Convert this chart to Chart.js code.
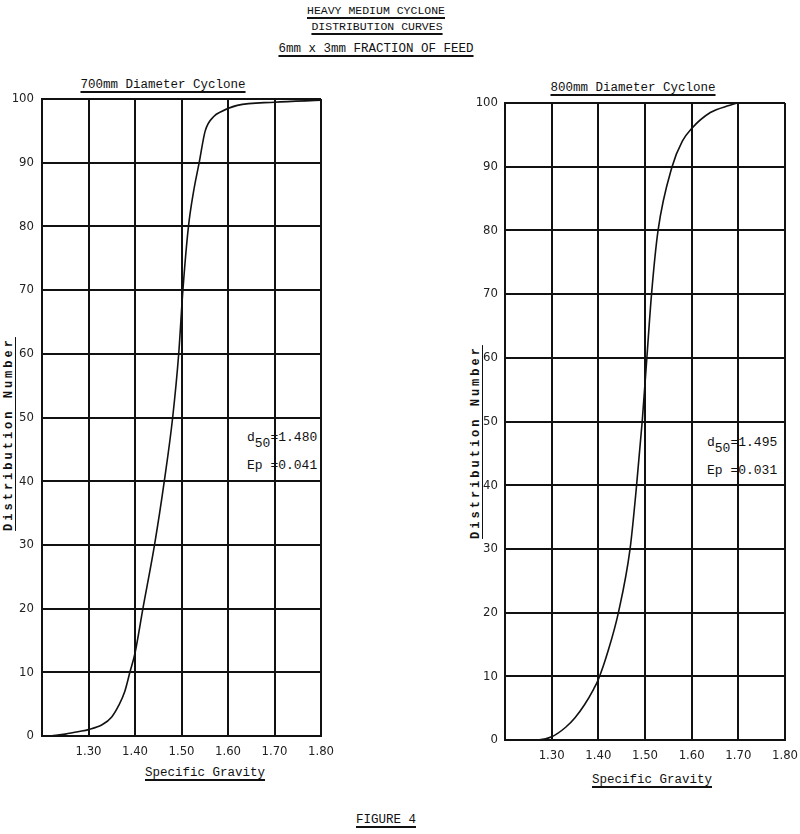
<!DOCTYPE html>
<html>
<head>
<meta charset="utf-8">
<script src="https://cdn.jsdelivr.net/npm/chart.js@4.4.0/dist/chart.umd.min.js"></script>
<style>
  body { margin: 0; background: #fff; width: 800px; height: 834px; position: relative; overflow: hidden; }
  .t { position: absolute; font-family: "Liberation Mono", monospace; font-size: 12.5px; color: #111; white-space: nowrap; line-height: 1; text-decoration: underline; text-underline-offset: 3px; text-decoration-thickness: 1.5px; }
  .c { transform: translateX(-50%); }
  .ytitle { position: absolute; font-family: "Liberation Mono", monospace; font-weight: bold; font-size: 12px; letter-spacing: 3px; color: #111; white-space: nowrap; line-height: 1; text-decoration: underline; text-underline-offset: 3px; transform: translate(-50%, -50%) rotate(-90deg); }
  .ann { position: absolute; font-family: "Liberation Mono", monospace; font-size: 13px; color: #111; white-space: nowrap; line-height: 1; }
  .ann sub { font-size: 13px; vertical-align: -6px; line-height: 0; }
  canvas { position: absolute; }
</style>
</head>
<body>
<div class="t c" style="left:376px;top:5px;font-size:11.5px;">HEAVY MEDIUM CYCLONE</div>
<div class="t c" style="left:377px;top:21px;font-size:11.5px;">DISTRIBUTION CURVES</div>
<div class="t c" style="left:376px;top:43px;">6mm x 3mm FRACTION OF FEED</div>

<div class="t c" style="left:163px;top:79px;">700mm Diameter Cyclone</div>
<div class="t c" style="left:633px;top:82px;">800mm Diameter Cyclone</div>

<div class="ytitle" style="left:9px;top:434px;">Distribution Number</div>
<div class="ytitle" style="left:476px;top:442px;">Distribution Number</div>

<div class="ann" style="left:247px;top:431px;">d<sub>50</sub>=1.480</div>
<div class="ann" style="left:247px;top:459px;">Ep =0.041</div>
<div class="ann" style="left:707px;top:436px;">d<sub>50</sub>=1.495</div>
<div class="ann" style="left:707px;top:464px;">Ep =0.031</div>

<div class="t c" style="left:205px;top:767px;">Specific Gravity</div>
<div class="t c" style="left:652px;top:774px;">Specific Gravity</div>

<div class="t c" style="left:386px;top:814px;">FIGURE 4</div>

<canvas id="left" style="left:0px;top:90px;" width="335" height="680"></canvas>
<canvas id="right" style="left:470px;top:90px;" width="330" height="680"></canvas>

<script>
// specific gravity / distribution number
const sg700 = [1.22, 1.25, 1.28, 1.30, 1.33, 1.35, 1.365, 1.378, 1.389, 1.40, 1.417, 1.442, 1.463, 1.481, 1.494, 1.503, 1.515, 1.526, 1.538, 1.551, 1.57, 1.585, 1.62, 1.70, 1.80];
const dn700 = [0, 0.3, 0.7, 1, 1.8, 3, 4.8, 7, 10, 13, 20, 30, 40, 50, 60, 70, 80, 85.5, 90, 95, 97.3, 98, 99, 99.5, 99.8];

const sg800 = [1.20, 1.27, 1.30, 1.33, 1.35, 1.37, 1.39, 1.40, 1.421, 1.443, 1.468, 1.482, 1.494, 1.504, 1.514, 1.528, 1.558, 1.58, 1.60, 1.64, 1.68, 1.70, 1.80];
const dn800 = [0, 0, 0.5, 2, 3.5, 5.5, 8, 9.5, 14, 20, 30, 40, 50, 60, 70, 80, 90, 94, 96, 98.5, 99.6, 100, 100];

const xTicks = [1.2, 1.3, 1.4, 1.5, 1.6, 1.7, 1.8];
const yTicks = [0, 10, 20, 30, 40, 50, 60, 70, 80, 90, 100];

const tickFont = { family: "'DejaVu Sans Condensed', 'DejaVu Sans', sans-serif", size: 13 };

function makeChart(id, xs, ys, yWidth, xHeight, pad, yPad) {
  new Chart(document.getElementById(id), {
    type: "line",
    data: {
      datasets: [
        {
          data: xs.map((x, i) => ({ x: x, y: ys[i] })),
          borderColor: "#111",
          borderWidth: 1.6,
          pointRadius: 0,
          fill: false,
          cubicInterpolationMode: "monotone",
        },
      ],
    },
    options: {
      responsive: false,
      animation: false,
      layout: { padding: pad },
      plugins: { legend: { display: false }, tooltip: { enabled: false } },
      scales: {
        x: {
          type: "linear",
          min: 1.2,
          max: 1.8,
          afterBuildTicks: (s) => { s.ticks = xTicks.map((v) => ({ value: v })); },
          afterFit: (s) => {
            s.height = xHeight;
            s.paddingLeft = 0;
            s.paddingRight = 0;
          },
          grid: { color: "#111", lineWidth: 2, drawTicks: false },
          border: { color: "#111", width: 2 },
          ticks: {
            color: "#222",
            font: tickFont,
            padding: 8,
            maxRotation: 0,
            callback: (v) => (v < 1.25 ? "" : v.toFixed(2)),
          },
        },
        y: {
          min: 0,
          max: 100,
          afterBuildTicks: (s) => { s.ticks = yTicks.map((v) => ({ value: v })); },
          afterFit: (s) => {
            s.width = yWidth;
            s.paddingTop = 0;
            s.paddingBottom = 0;
          },
          grid: { color: "#111", lineWidth: 2, drawTicks: false },
          border: { color: "#111", width: 2 },
          ticks: { color: "#222", font: tickFont, padding: yPad },
        },
      },
    },
  });
}

makeChart("left", sg700, dn700, 42, 34, { top: 9, right: 14, left: 0, bottom: 0 }, 8);
makeChart("right", sg800, dn800, 35, 30, { top: 13, right: 15, left: 0, bottom: 0 }, 7);
</script>
</body>
</html>
